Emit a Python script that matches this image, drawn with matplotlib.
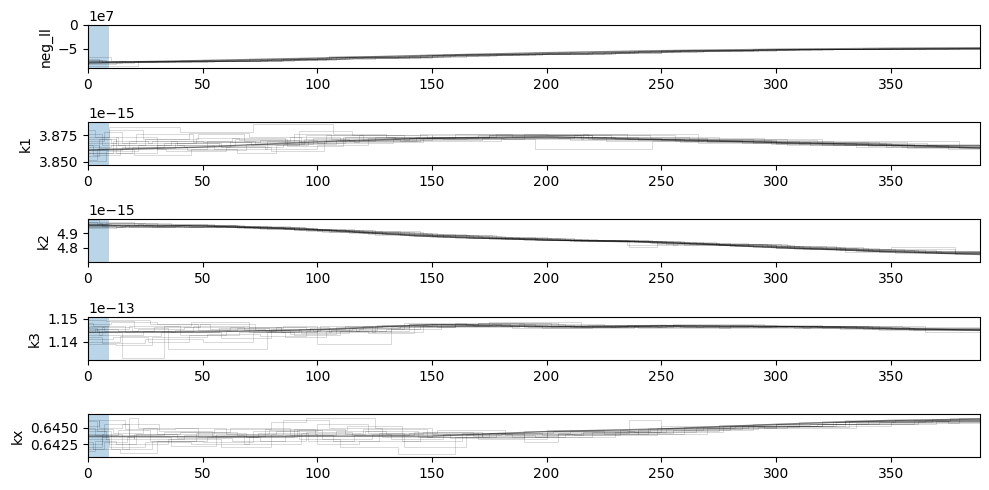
import numpy as np
import matplotlib
matplotlib.use("Agg")
import matplotlib.pyplot as plt

# parameter names and burn-in
labels = ["neg_ll", "k1", "k2", "k3", "kx"]
burn = 9
n_steps = 389

# trend (dark) line per parameter
trend_x = [0, 50, 100, 150, 200, 250, 300, 350, 389]
negll_trend = [-7.85, -7.4, -6.9, -6.3, -5.77, -5.35, -5.06, -4.85, -4.75]
k1_trend = [3.861, 3.864, 3.869, 3.8725, 3.874, 3.871, 3.8683, 3.866, 3.863]
k2_trend = [4.954, 4.95, 4.924, 4.876, 4.852, 4.836, 4.80, 4.771, 4.752]
k3_trend = [1.1441, 1.1443, 1.1452, 1.1474, 1.1466, 1.1470, 1.1466, 1.1459, 1.1449]
kx_trend = [0.6437, 0.6436, 0.6437, 0.6437, 0.6444, 0.6448, 0.6455, 0.6461, 0.6463]

# walkers: step where value changes, and value held from that step
negll_steps = [
    [0, 22, 48, 75, 104, 118, 155, 190, 236, 262, 300, 340, 389],
    [0, 10, 40, 80, 105, 130, 160, 205, 250, 290, 330, 380, 389],
    [0, 15, 55, 90, 115, 150, 185, 230, 255, 310, 350, 389],
    [0, 8, 35, 70, 100, 140, 175, 220, 245, 280, 320, 389],
    [0, 18, 60, 95, 125, 165, 210, 240, 275, 315, 365, 389],
    [0, 12, 45, 85, 110, 145, 180, 225, 265, 300, 345, 389],
    [0, 25, 65, 100, 135, 170, 200, 250, 290, 335, 389],
    [0, 5, 30, 75, 108, 150, 195, 240, 285, 325, 375, 389],
    [0, 14, 50, 88, 112, 148, 188, 228, 258, 296, 338, 389],
    [0, 20, 58, 92, 120, 158, 198, 238, 270, 305, 355, 389],
    [0, 6, 38, 78, 106, 138, 178, 218, 252, 292, 342, 389],
    [0, 16, 52, 84, 114, 152, 192, 232, 268, 308, 360, 389],
]
negll_vals = [
    [-8.5, -7.6, -7.5, -7.2, -6.7, -6.6, -6.1, -5.9, -5.5, -5.3, -5.05, -4.9, -4.8],
    [-6.7, -7.5, -7.3, -7.0, -6.5, -6.5, -6.0, -5.75, -5.3, -5.1, -4.95, -4.8, -4.8],
    [-7.9, -7.7, -7.4, -7.0, -6.8, -6.25, -6.0, -5.6, -5.3, -5.0, -4.85, -4.8],
    [-7.2, -7.8, -7.5, -7.1, -6.9, -6.4, -6.1, -5.7, -5.4, -5.15, -4.95, -4.75],
    [-7.6, -7.5, -7.3, -7.0, -6.6, -6.1, -5.7, -5.5, -5.2, -5.0, -4.8, -4.8],
    [-8.2, -7.7, -7.4, -7.1, -6.8, -6.3, -6.0, -5.65, -5.35, -5.1, -4.85, -4.8],
    [-7.4, -7.6, -7.2, -6.9, -6.5, -6.1, -5.9, -5.4, -5.1, -4.9, -4.8],
    [-7.0, -7.7, -7.5, -7.2, -6.7, -6.2, -5.85, -5.45, -5.2, -5.0, -4.8, -4.78],
    [-7.8, -7.6, -7.35, -7.0, -6.7, -6.2, -5.95, -5.6, -5.3, -5.05, -4.88, -4.78],
    [-8.0, -7.55, -7.3, -6.95, -6.6, -6.15, -5.8, -5.5, -5.25, -5.0, -4.82, -4.76],
    [-7.3, -7.7, -7.45, -7.15, -6.75, -6.4, -6.05, -5.7, -5.35, -5.1, -4.9, -4.78],
    [-7.5, -7.65, -7.4, -7.05, -6.65, -6.2, -5.9, -5.55, -5.28, -5.02, -4.82, -4.77],
]

k1_steps = [
    [0, 9, 17, 40, 72, 107, 130, 175, 220, 270, 320, 389],
    [0, 5, 12, 30, 55, 78, 95, 120, 160, 205, 250, 300, 350, 389],
    [0, 7, 15, 28, 50, 75, 100, 133, 170, 215, 260, 310, 360, 389],
    [0, 4, 20, 45, 65, 82, 92, 115, 150, 190, 235, 290, 340, 389],
    [0, 10, 25, 48, 68, 88, 110, 145, 195, 246, 290, 330, 375, 389],
    [0, 6, 16, 38, 58, 80, 103, 125, 160, 200, 245, 295, 345, 389],
    [0, 8, 22, 42, 62, 90, 106, 136, 180, 225, 275, 325, 370, 389],
    [0, 12, 30, 52, 73, 98, 120, 150, 185, 230, 280, 320, 380, 389],
    [0, 15, 33, 57, 77, 100, 122, 155, 190, 240, 285, 335, 389],
    [0, 9, 24, 44, 70, 93, 112, 145, 185, 228, 270, 315, 360, 389],
    [0, 2, 14, 34, 60, 85, 108, 140, 175, 220, 262, 305, 355, 389],
    [0, 11, 26, 47, 66, 92, 118, 148, 182, 226, 268, 318, 366, 389],
    [0, 3, 13, 36, 63, 86, 104, 138, 172, 212, 256, 300, 340, 389],
    [0, 8, 19, 43, 69, 94, 114, 143, 178, 218, 258, 302, 348, 389],
    [0, 5, 18, 39, 64, 87, 111, 134, 165, 210, 252, 298, 342, 389],
    [0, 10, 21, 46, 71, 96, 116, 146, 181, 216, 266, 312, 357, 389],
]
k1_vals = [
    [3.862, 3.883, 3.883, 3.878, 3.886, 3.876, 3.874, 3.875, 3.872, 3.870, 3.866, 3.862],
    [3.855, 3.872, 3.858, 3.866, 3.862, 3.870, 3.875, 3.873, 3.874, 3.873, 3.871, 3.868, 3.865, 3.863],
    [3.870, 3.878, 3.868, 3.870, 3.869, 3.871, 3.868, 3.873, 3.875, 3.872, 3.870, 3.867, 3.864, 3.864],
    [3.852, 3.862, 3.856, 3.862, 3.858, 3.866, 3.879, 3.875, 3.874, 3.876, 3.872, 3.869, 3.866, 3.862],
    [3.864, 3.866, 3.872, 3.876, 3.870, 3.874, 3.870, 3.872, 3.862, 3.870, 3.868, 3.866, 3.862, 3.862],
    [3.876, 3.866, 3.863, 3.868, 3.864, 3.860, 3.870, 3.874, 3.876, 3.875, 3.873, 3.869, 3.867, 3.864],
    [3.858, 3.860, 3.866, 3.864, 3.869, 3.876, 3.872, 3.870, 3.873, 3.874, 3.870, 3.866, 3.865, 3.863],
    [3.868, 3.874, 3.862, 3.870, 3.867, 3.873, 3.871, 3.875, 3.874, 3.872, 3.872, 3.870, 3.863, 3.861],
    [3.861, 3.864, 3.868, 3.865, 3.862, 3.866, 3.873, 3.872, 3.874, 3.871, 3.868, 3.864, 3.863],
    [3.874, 3.880, 3.872, 3.877, 3.874, 3.868, 3.874, 3.876, 3.875, 3.873, 3.869, 3.866, 3.866, 3.864],
    [3.866, 3.856, 3.862, 3.860, 3.864, 3.867, 3.871, 3.873, 3.875, 3.874, 3.872, 3.866, 3.864, 3.862],
    [3.858, 3.870, 3.868, 3.873, 3.871, 3.869, 3.875, 3.873, 3.874, 3.870, 3.871, 3.868, 3.866, 3.864],
    [3.880, 3.874, 3.866, 3.870, 3.873, 3.868, 3.875, 3.871, 3.873, 3.875, 3.870, 3.867, 3.865, 3.862],
    [3.851, 3.858, 3.864, 3.861, 3.867, 3.872, 3.870, 3.874, 3.876, 3.872, 3.869, 3.868, 3.864, 3.863],
    [3.866, 3.863, 3.870, 3.866, 3.872, 3.865, 3.874, 3.872, 3.873, 3.871, 3.871, 3.867, 3.866, 3.862],
    [3.872, 3.868, 3.876, 3.869, 3.866, 3.871, 3.869, 3.873, 3.872, 3.876, 3.868, 3.869, 3.863, 3.863],
]

k2_steps = [
    [0, 20, 45, 70, 95, 110, 140, 175, 205, 236, 248, 275, 300, 330, 389],
    [0, 8, 30, 60, 85, 105, 130, 160, 190, 230, 255, 290, 320, 378, 389],
    [0, 15, 40, 65, 90, 120, 150, 180, 210, 245, 270, 305, 340, 389],
    [0, 5, 25, 55, 80, 100, 125, 158, 195, 225, 260, 285, 315, 350, 378, 389],
    [0, 12, 35, 58, 88, 112, 145, 170, 200, 240, 265, 298, 330, 365, 389],
    [0, 18, 50, 75, 102, 135, 165, 198, 235, 257, 280, 310, 345, 389],
    [0, 10, 28, 62, 92, 118, 152, 185, 215, 250, 275, 300, 335, 372, 389],
    [0, 22, 52, 78, 108, 128, 155, 188, 222, 252, 282, 312, 352, 389],
    [0, 6, 33, 68, 96, 115, 142, 172, 206, 246, 272, 302, 338, 389],
    [0, 14, 42, 72, 98, 124, 148, 178, 212, 242, 268, 296, 326, 360, 389],
    [0, 9, 36, 66, 94, 116, 146, 176, 208, 238, 262, 294, 328, 362, 389],
    [0, 16, 44, 74, 100, 122, 150, 182, 218, 248, 278, 308, 342, 389],
    [0, 4, 24, 56, 86, 106, 136, 166, 196, 232, 258, 288, 322, 356, 389],
    [0, 12, 38, 64, 90, 114, 138, 168, 202, 244, 274, 306, 336, 370, 389],
]
k2_vals = [
    [4.975, 4.955, 4.950, 4.940, 4.915, 4.905, 4.880, 4.862, 4.850, 4.805, 4.830, 4.815, 4.795, 4.770, 4.752],
    [4.960, 4.968, 4.948, 4.945, 4.930, 4.910, 4.895, 4.868, 4.855, 4.845, 4.820, 4.805, 4.790, 4.760, 4.750],
    [4.945, 4.950, 4.955, 4.935, 4.925, 4.900, 4.880, 4.860, 4.848, 4.832, 4.825, 4.795, 4.775, 4.755],
    [4.990, 4.970, 4.960, 4.948, 4.935, 4.920, 4.890, 4.870, 4.850, 4.845, 4.818, 4.808, 4.788, 4.805, 4.755, 4.752],
    [4.935, 4.945, 4.940, 4.950, 4.930, 4.915, 4.885, 4.872, 4.855, 4.838, 4.826, 4.805, 4.782, 4.765, 4.750],
    [4.955, 4.940, 4.952, 4.928, 4.910, 4.892, 4.865, 4.853, 4.815, 4.835, 4.812, 4.795, 4.772, 4.754],
    [4.965, 4.958, 4.945, 4.942, 4.920, 4.898, 4.876, 4.862, 4.845, 4.835, 4.820, 4.800, 4.778, 4.762, 4.752],
    [4.948, 4.962, 4.950, 4.932, 4.918, 4.895, 4.870, 4.858, 4.848, 4.826, 4.808, 4.790, 4.765, 4.754],
    [4.970, 4.950, 4.958, 4.938, 4.925, 4.905, 4.882, 4.866, 4.850, 4.832, 4.822, 4.802, 4.776, 4.752],
    [4.958, 4.952, 4.946, 4.936, 4.922, 4.902, 4.885, 4.864, 4.846, 4.840, 4.824, 4.810, 4.786, 4.768, 4.756],
    [4.962, 4.972, 4.955, 4.940, 4.928, 4.908, 4.884, 4.866, 4.852, 4.842, 4.822, 4.806, 4.784, 4.766, 4.753],
    [4.942, 4.958, 4.944, 4.934, 4.915, 4.897, 4.878, 4.861, 4.847, 4.828, 4.815, 4.793, 4.774, 4.751],
    [4.980, 4.962, 4.952, 4.946, 4.932, 4.912, 4.890, 4.869, 4.854, 4.843, 4.830, 4.809, 4.792, 4.770, 4.754],
    [4.952, 4.944, 4.956, 4.942, 4.924, 4.904, 4.888, 4.867, 4.851, 4.836, 4.818, 4.798, 4.780, 4.763, 4.751],
]

k3_steps = [
    [0, 4, 15, 33, 45, 70, 95, 120, 150, 180, 210, 250, 300, 340, 389],
    [0, 8, 20, 35, 55, 78, 100, 115, 140, 170, 205, 245, 290, 330, 389],
    [0, 6, 25, 50, 72, 90, 110, 132, 160, 190, 230, 270, 310, 350, 389],
    [0, 10, 30, 48, 65, 85, 100, 132, 145, 175, 215, 255, 295, 345, 389],
    [0, 3, 18, 40, 60, 82, 105, 125, 155, 185, 220, 260, 300, 355, 389],
    [0, 12, 28, 52, 75, 95, 118, 138, 165, 200, 240, 280, 320, 360, 389],
    [0, 7, 22, 42, 68, 88, 108, 128, 152, 188, 225, 265, 305, 335, 389],
    [0, 14, 32, 58, 80, 98, 122, 142, 170, 202, 235, 275, 315, 365, 389],
    [0, 5, 24, 46, 70, 92, 112, 135, 160, 195, 228, 268, 308, 348, 389],
    [0, 9, 27, 53, 77, 97, 117, 140, 168, 198, 238, 278, 318, 358, 389],
    [0, 2, 16, 38, 62, 84, 106, 126, 148, 178, 212, 252, 292, 338, 389],
    [0, 11, 26, 44, 66, 86, 104, 130, 154, 184, 218, 258, 298, 342, 389],
    [0, 6, 19, 36, 57, 79, 101, 124, 146, 176, 208, 248, 288, 328, 389],
    [0, 13, 29, 49, 73, 93, 114, 136, 158, 192, 232, 272, 312, 352, 389],
]
k3_vals = [
    [1.1460, 1.1440, 1.1331, 1.1470, 1.1485, 1.1465, 1.1455, 1.1470, 1.1478, 1.1468, 1.1462, 1.1472, 1.1466, 1.1458, 1.1448],
    [1.1496, 1.1488, 1.1460, 1.1368, 1.1368, 1.1440, 1.1450, 1.1460, 1.1475, 1.1480, 1.1470, 1.1472, 1.1464, 1.1460, 1.1450],
    [1.1420, 1.1395, 1.1410, 1.1400, 1.1440, 1.1430, 1.1445, 1.1465, 1.1480, 1.1462, 1.1470, 1.1468, 1.1462, 1.1455, 1.1446],
    [1.1478, 1.1485, 1.1478, 1.1450, 1.1460, 1.1470, 1.1390, 1.1455, 1.1470, 1.1485, 1.1465, 1.1475, 1.1468, 1.1452, 1.1450],
    [1.1440, 1.1455, 1.1470, 1.1430, 1.1448, 1.1462, 1.1440, 1.1468, 1.1470, 1.1458, 1.1468, 1.1462, 1.1470, 1.1462, 1.1447],
    [1.1390, 1.1385, 1.1420, 1.1435, 1.1425, 1.1445, 1.1455, 1.1480, 1.1472, 1.1466, 1.1460, 1.1472, 1.1460, 1.1450, 1.1448],
    [1.1465, 1.1448, 1.1455, 1.1462, 1.1450, 1.1435, 1.1462, 1.1472, 1.1465, 1.1475, 1.1470, 1.1464, 1.1468, 1.1458, 1.1451],
    [1.1400, 1.1425, 1.1440, 1.1418, 1.1455, 1.1448, 1.1438, 1.1470, 1.1482, 1.1462, 1.1474, 1.1460, 1.1466, 1.1440, 1.1446],
    [1.1450, 1.1430, 1.1445, 1.1468, 1.1440, 1.1455, 1.1470, 1.1462, 1.1476, 1.1470, 1.1465, 1.1470, 1.1458, 1.1456, 1.1450],
    [1.1470, 1.1492, 1.1475, 1.1455, 1.1448, 1.1460, 1.1448, 1.1478, 1.1470, 1.1460, 1.1470, 1.1466, 1.1464, 1.1452, 1.1449],
    [1.1482, 1.1470, 1.1440, 1.1452, 1.1465, 1.1440, 1.1452, 1.1474, 1.1468, 1.1472, 1.1464, 1.1468, 1.1462, 1.1454, 1.1447],
    [1.1410, 1.1420, 1.1398, 1.1428, 1.1442, 1.1420, 1.1448, 1.1456, 1.1475, 1.1466, 1.1472, 1.1465, 1.1467, 1.1457, 1.1450],
    [1.1430, 1.1462, 1.1448, 1.1440, 1.1458, 1.1448, 1.1466, 1.1442, 1.1472, 1.1478, 1.1468, 1.1462, 1.1470, 1.1455, 1.1448],
    [1.1455, 1.1445, 1.1462, 1.1478, 1.1452, 1.1438, 1.1458, 1.1466, 1.1470, 1.1464, 1.1466, 1.1470, 1.1461, 1.1453, 1.1447],
]

kx_steps = [
    [0, 4, 10, 18, 22, 30, 55, 80, 95, 125, 150, 190, 205, 236, 250, 280, 320, 389],
    [0, 6, 15, 28, 50, 72, 92, 110, 135, 160, 200, 240, 270, 300, 340, 389],
    [0, 8, 20, 40, 65, 85, 105, 128, 150, 180, 215, 255, 290, 330, 389],
    [0, 3, 12, 35, 58, 80, 100, 118, 145, 175, 210, 245, 285, 325, 365, 389],
    [0, 5, 16, 38, 60, 82, 100, 122, 138, 165, 195, 230, 265, 305, 350, 389],
    [0, 9, 25, 45, 70, 90, 112, 132, 155, 185, 220, 250, 295, 335, 380, 389],
    [0, 7, 18, 33, 62, 88, 108, 130, 158, 190, 225, 260, 300, 345, 389],
    [0, 2, 14, 30, 52, 75, 95, 115, 140, 170, 200, 235, 275, 315, 360, 389],
    [0, 11, 24, 48, 74, 96, 116, 142, 168, 205, 240, 280, 320, 370, 389],
    [0, 6, 20, 42, 68, 93, 120, 148, 178, 212, 248, 288, 330, 375, 389],
    [0, 3, 13, 27, 47, 69, 91, 113, 137, 163, 198, 232, 268, 310, 352, 389],
    [0, 7, 17, 36, 56, 79, 102, 124, 146, 172, 208, 244, 282, 326, 368, 389],
    [0, 5, 15, 31, 54, 77, 99, 121, 144, 172, 203, 238, 277, 318, 362, 389],
    [0, 9, 21, 39, 63, 86, 107, 127, 152, 182, 216, 252, 292, 332, 376, 389],
]
kx_vals = [
    [0.6460, 0.6445, 0.6418, 0.6465, 0.6450, 0.6440, 0.6448, 0.6458, 0.6465, 0.6450, 0.6440, 0.6428, 0.6442, 0.6461, 0.6450, 0.6453, 0.6460, 0.6466],
    [0.6425, 0.6440, 0.6418, 0.6430, 0.6428, 0.6445, 0.6432, 0.6420, 0.6410, 0.6435, 0.6443, 0.6440, 0.6450, 0.6455, 0.6460, 0.6462],
    [0.6445, 0.6432, 0.6440, 0.6443, 0.6438, 0.6462, 0.6450, 0.6435, 0.6438, 0.6440, 0.6442, 0.6446, 0.6455, 0.6462, 0.6464],
    [0.6415, 0.6430, 0.6425, 0.6432, 0.6420, 0.6440, 0.6425, 0.6430, 0.6436, 0.6442, 0.6445, 0.6448, 0.6452, 0.6458, 0.6461, 0.6463],
    [0.6452, 0.6462, 0.6448, 0.6450, 0.6440, 0.6445, 0.6455, 0.6442, 0.6420, 0.6438, 0.6436, 0.6444, 0.6449, 0.6453, 0.6459, 0.6462],
    [0.6435, 0.6420, 0.6428, 0.6425, 0.6436, 0.6448, 0.6440, 0.6432, 0.6440, 0.6436, 0.6443, 0.6452, 0.6450, 0.6457, 0.6465, 0.6464],
    [0.6440, 0.6455, 0.6438, 0.6444, 0.6450, 0.6438, 0.6445, 0.6440, 0.6434, 0.6445, 0.6441, 0.6451, 0.6456, 0.6458, 0.6463],
    [0.6428, 0.6418, 0.6412, 0.6430, 0.6436, 0.6430, 0.6444, 0.6438, 0.6442, 0.6433, 0.6446, 0.6445, 0.6454, 0.6456, 0.6462, 0.6461],
    [0.6448, 0.6442, 0.6450, 0.6436, 0.6442, 0.6430, 0.6438, 0.6444, 0.6437, 0.6440, 0.6447, 0.6452, 0.6455, 0.6460, 0.6465],
    [0.6420, 0.6436, 0.6432, 0.6438, 0.6425, 0.6442, 0.6448, 0.6436, 0.6441, 0.6438, 0.6449, 0.6453, 0.6460, 0.6457, 0.6462],
    [0.6450, 0.6438, 0.6446, 0.6430, 0.6442, 0.6435, 0.6446, 0.6452, 0.6430, 0.6442, 0.6439, 0.6447, 0.6451, 0.6458, 0.6461, 0.6464],
    [0.6418, 0.6428, 0.6435, 0.6422, 0.6440, 0.6446, 0.6433, 0.6440, 0.6444, 0.6436, 0.6440, 0.6450, 0.6452, 0.6459, 0.6463, 0.6463],
    [0.6462, 0.6450, 0.6456, 0.6445, 0.6437, 0.6448, 0.6440, 0.6445, 0.6436, 0.6442, 0.6445, 0.6443, 0.6453, 0.6455, 0.6460, 0.6465],
    [0.6432, 0.6425, 0.6440, 0.6434, 0.6430, 0.6438, 0.6430, 0.6442, 0.6446, 0.6438, 0.6444, 0.6448, 0.6451, 0.6460, 0.6464, 0.6462],
]

# unit scale, y limits and y ticks (in those units)
scales = [1e7, 1e-15, 1e-15, 1e-13, 1.0]
ylims = [(-8.96, 0.0), (3.8468, 3.8879), (4.70, 4.998), (1.1321, 1.1507), (0.64052, 0.64708)]
yticks = [[-5, 0], [3.850, 3.875], [4.8, 4.9], [1.14, 1.15], [0.6425, 0.6450]]
all_steps = [negll_steps, k1_steps, k2_steps, k3_steps, kx_steps]
all_vals = [negll_vals, k1_vals, k2_vals, k3_vals, kx_vals]
trends = [negll_trend, k1_trend, k2_trend, k3_trend, kx_trend]

fig = plt.figure(figsize=(9.89, 4.9), dpi=100)
tops = [25, 122, 219, 317, 414]
for i, name in enumerate(labels):
    ax = fig.add_axes([88 / 989, 1 - (tops[i] + 43) / 490, 892 / 989, 43 / 490])
    sc = scales[i]
    for s, v in zip(all_steps[i], all_vals[i]):
        ax.plot(s, np.array(v) * sc, color="k", alpha=0.15, lw=0.7, drawstyle="steps-post")
    ax.plot(trend_x, np.array(trends[i]) * sc, color="k", alpha=0.5, lw=1.0)
    ax.axvspan(0, burn, alpha=0.3)
    ax.set_xlim(0, n_steps)
    ax.set_ylim(ylims[i][0] * sc, ylims[i][1] * sc)
    ax.set_yticks(np.array(yticks[i]) * sc)
    ax.set_ylabel(name)

fig.savefig("out.png", dpi=100)
